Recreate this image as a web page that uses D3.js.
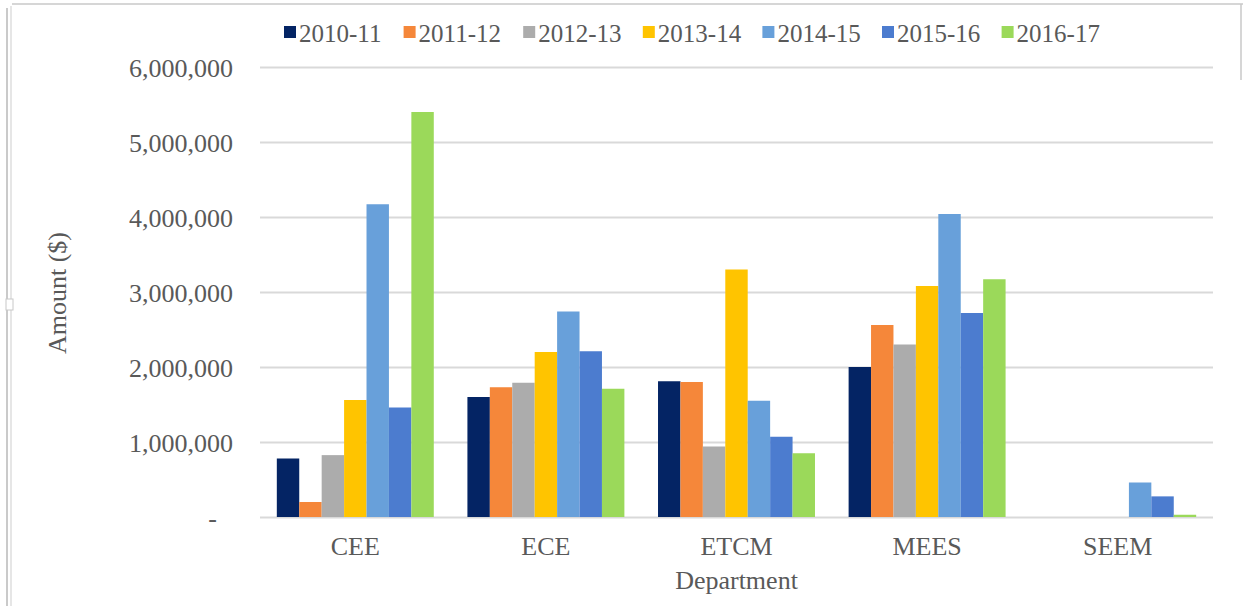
<!DOCTYPE html>
<html>
<head>
<meta charset="utf-8">
<script src="https://cdn.jsdelivr.net/npm/d3@7"></script>
<style>
  body { margin: 0; background: #fff; }
  text { font-family: "Liberation Serif", "Times New Roman", serif; fill: #595959; }
</style>
</head>
<body>
<svg id="chart" width="1243" height="606"></svg>
<script>
// data
var departments = ["CEE", "ECE", "ETCM", "MEES", "SEEM"];
var years = ["2010-11", "2011-12", "2012-13", "2013-14", "2014-15", "2015-16", "2016-17"];
var colors = ["#042464", "#f5873a", "#acacac", "#ffc400", "#68a0da", "#4c7ccf", "#9bd95a"];
var yTicks = [0, 1000000, 2000000, 3000000, 4000000, 5000000, 6000000];

// one array per year, in department order
var y2010 = [780000, 1600000, 1810000, 2000000, 0];
var y2011 = [200000, 1730000, 1800000, 2560000, 0];
var y2012 = [825000, 1790000, 940000, 2300000, 0];
var y2013 = [1560000, 2200000, 3300000, 3080000, 0];
var y2014 = [4170000, 2740000, 1550000, 4040000, 460000];
var y2015 = [1460000, 2210000, 1070000, 2720000, 275000];
var y2016 = [5400000, 1710000, 850000, 3170000, 30000];
var seriesValues = [y2010, y2011, y2012, y2013, y2014, y2015, y2016];

(function() {
    var svg = d3.select("#chart");
    var left = 260, right = 1213, top = 67, bottom = 517;

    // frame bits at the picture edges
    svg.append("line").attr("x1", 7).attr("x2", 7).attr("y1", 8).attr("y2", 606)
        .style("stroke", "#b8b8b8").style("stroke-width", 1.5);
    svg.append("line").attr("x1", 11).attr("x2", 11).attr("y1", 6).attr("y2", 606)
        .style("stroke", "#dedede").style("stroke-width", 1.5);
    svg.append("line").attr("x1", 12).attr("x2", 1243).attr("y1", 4).attr("y2", 4)
        .style("stroke", "#c8c8c8").style("stroke-width", 1.5);
    svg.append("line").attr("x1", 1241).attr("x2", 1241).attr("y1", 4).attr("y2", 80)
        .style("stroke", "#c8c8c8").style("stroke-width", 1.5);
    svg.append("rect").attr("x", 6).attr("y", 299).attr("width", 7).attr("height", 11)
        .style("fill", "#fff").style("stroke", "#c8c8c8");

    var x0 = d3.scaleBand().domain(departments).range([left, right]).padding(0);
    var x1 = d3.scaleBand().domain(years).range([0, x0.bandwidth()])
        .paddingInner(0).paddingOuter(0.75);
    var y = d3.scaleLinear().domain([0, 6000000]).range([bottom, top]);

    // gridlines
    svg.append("g")
        .attr("class", "grid")
        .attr("transform", "translate(" + left + ",0)")
        .call(d3.axisLeft(y).tickValues(yTicks).tickSize(-(right - left)).tickFormat(""))
        .call(function(g) {
            g.select(".domain").remove();
            g.selectAll("line").style("stroke", "#d9d9d9").style("stroke-width", 2);
        });

    // y axis labels
    var yAxis = svg.append("g")
        .attr("transform", "translate(" + left + ",0)")
        .call(d3.axisLeft(y).tickValues(yTicks).tickSize(0).tickPadding(27)
            .tickFormat(function(d) { return d === 0 ? "-" : d3.format(",")(d); }));
    yAxis.select(".domain").remove();
    yAxis.selectAll("text")
        .attr("dy", "0.35em")
        .style("font-size", "26px")
        .style("font-family", "Liberation Serif")
        .style("fill", "#595959")
        .filter(function(d) { return d === 0; })
        .attr("x", -43);

    // bars
    var groups = svg.selectAll(".dept")
        .data(departments)
        .enter().append("g")
        .attr("class", "dept")
        .attr("transform", function(d) { return "translate(" + x0(d) + ",0)"; });

    groups.selectAll("rect")
        .data(function(d, i) {
            return years.map(function(yr, j) {
                return { year: yr, value: seriesValues[j][i], color: colors[j] };
            });
        })
        .enter().append("rect")
        .attr("x", function(d) { return x1(d.year); })
        .attr("y", function(d) { return y(d.value); })
        .attr("width", x1.bandwidth())
        .attr("height", function(d) { return bottom - y(d.value); })
        .style("fill", function(d) { return d.color; });

    // category axis
    var xAxis = svg.append("g")
        .attr("transform", "translate(0," + bottom + ")")
        .call(d3.axisBottom(x0).tickSize(0).tickPadding(20));
    xAxis.select(".domain").remove();
    xAxis.selectAll("text")
        .style("font-size", "26px")
        .style("font-family", "Liberation Serif")
        .style("fill", "#595959");

    // axis titles
    svg.append("text")
        .attr("x", (left + right) / 2)
        .attr("y", 589)
        .attr("text-anchor", "middle")
        .style("font-size", "26px")
        .text("Department");

    svg.append("text")
        .attr("transform", "translate(66," + ((top + bottom) / 2 + 1) + ") rotate(-90)")
        .attr("text-anchor", "middle")
        .style("font-size", "26px")
        .text("Amount ($)");

    // legend
    var lx = d3.scaleBand().domain(years).range([284, 284 + 7 * 119.6]);
    var legend = svg.selectAll(".legend")
        .data(years)
        .enter().append("g")
        .attr("class", "legend")
        .attr("transform", function(d) { return "translate(" + lx(d) + ",0)"; });
    legend.append("rect")
        .attr("x", 0).attr("y", 26)
        .attr("width", 12).attr("height", 12)
        .style("fill", function(d, i) { return colors[i]; });
    legend.append("text")
        .attr("x", 15).attr("y", 42)
        .style("font-size", "25px")
        .text(function(d) { return d; });
})();
</script>
</body>
</html>
